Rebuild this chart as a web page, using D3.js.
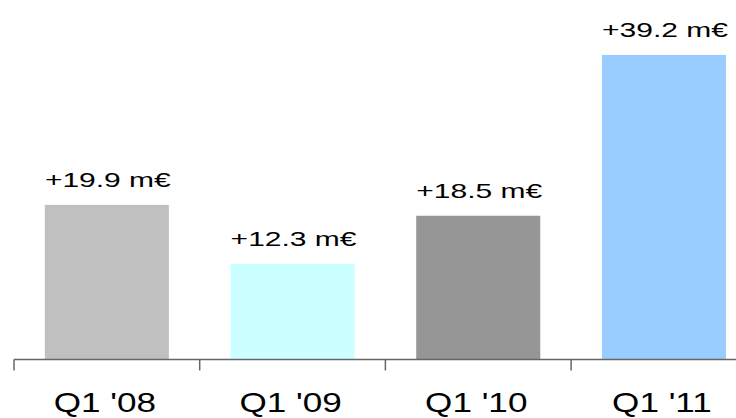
<!doctype html>
<html>
<head>
    <script src="https://d3js.org/d3.v7.min.js"></script>
    <style>
        body { margin: 0; background: #fff; }
        svg text {
            font-family: "Liberation Sans", Arial, sans-serif;
            fill: #000;
            text-anchor: middle;
        }
    </style>
</head>
<body>
<script>
    // quarter categories and results in million euros
    let quarters = ["Q1 '08", "Q1 '09", "Q1 '10", "Q1 '11"];
    let values = [19.9, 12.3, 18.5, 39.2];
    let valueLabels = ["+19.9 m€", "+12.3 m€", "+18.5 m€", "+39.2 m€"];
    let barColors = ["#c0c0c0", "#ccffff", "#969696", "#99ccff"];

    let width = 736,
        height = 418,
        baseline = 359.5;

    let svg = d3.select("body")
                .append("svg")
                .attr("width", width)
                .attr("height", height);

    // band scale: each quarter gets ~186px, the first band starts at 14px
    let pad = 0.332;
    let x = d3.scaleBand()
              .domain(quarters)
              .range([14, 14 + 4 * 185.7])
              .paddingInner(pad)
              .paddingOuter(pad / 2);

    let y = d3.scaleLinear()
              .domain([0, 40])
              .range([baseline, baseline - 310.8]);

    svg.selectAll("rect")
       .data(values)
       .enter()
       .append("rect")
       .attr("x", (d, i) => x(quarters[i]))
       .attr("y", d => y(d))
       .attr("width", x.bandwidth())
       .attr("height", d => y(0) - y(d))
       .attr("fill", (d, i) => barColors[i]);

    // axis line and the ticks between categories
    svg.append("line")
       .attr("x1", 14).attr("x2", width)
       .attr("y1", baseline).attr("y2", baseline)
       .attr("stroke", "#666").attr("stroke-width", 1.5);

    svg.selectAll(".tick")
       .data(quarters)
       .enter()
       .append("line")
       .attr("class", "tick")
       .attr("x1", d => x(d) - x.step() * pad / 2)
       .attr("x2", d => x(d) - x.step() * pad / 2)
       .attr("y1", baseline)
       .attr("y2", baseline + 11)
       .attr("stroke", "#666").attr("stroke-width", 1.5);

    // text in the picture is stretched sideways, so scale it in x
    svg.selectAll(".cat")
       .data(quarters)
       .enter()
       .append("text")
       .attr("class", "cat")
       .attr("transform", d => "translate(" + (x(d) + x.bandwidth() / 2 - 2) + ",412) scale(1.3,1)")
       .style("font-size", "27px")
       .text(d => d);

    svg.selectAll(".val")
       .data(values)
       .enter()
       .append("text")
       .attr("class", "val")
       .attr("transform", (d, i) => "translate(" + (x(quarters[i]) + x.bandwidth() / 2 + 1) + "," + (y(d) - 18) + ") scale(1.5,1)")
       .style("font-size", "20px")
       .text((d, i) => valueLabels[i]);
</script>
</body>
</html>
